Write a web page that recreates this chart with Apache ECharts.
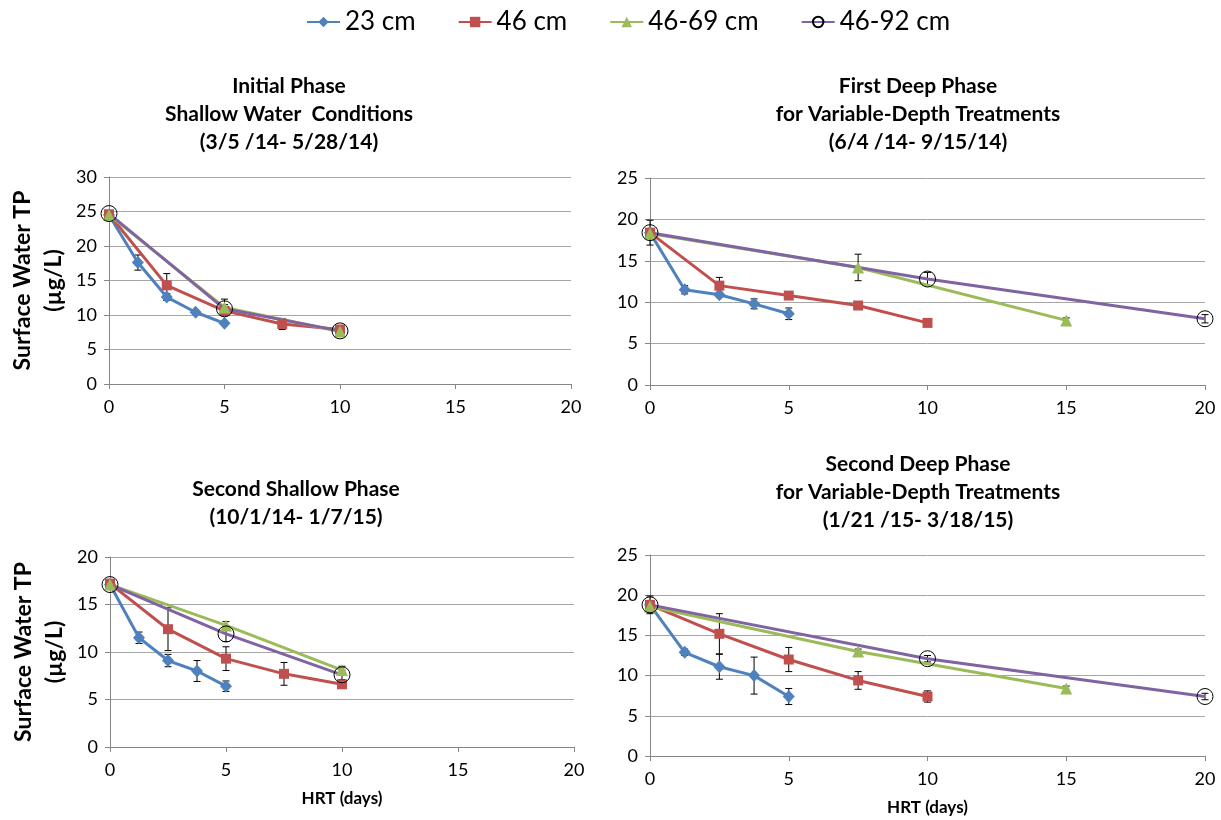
<!DOCTYPE html>
<html>
<head>
<meta charset="utf-8">
<script src="https://cdn.jsdelivr.net/npm/echarts@6.0.0/dist/echarts.min.js"></script>
<style>
  html, body { margin: 0; padding: 0; background: #fff; }
  #chart { width: 1221px; height: 820px; }
</style>
</head>
<body>
<div id="chart"></div>
<script>
// x positions (HRT, days)
const x23 = [0, 1.25, 2.5, 3.75, 5];
const x46 = [0, 2.5, 5, 7.5, 10];
const xShallow = [0, 5, 10];
const x69Deep = [0, 7.5, 15];
const x92Deep = [0, 10, 20];

const seriesNames = ['23 cm', '46 cm', '46-69 cm', '46-92 cm'];

// Initial Phase
const p1_23 = [24.5, 17.6, 12.6, 10.4, 8.8];
const p1_23err = [0.3, 1.1, 0.5, 0.3, 0.2];
const p1_46 = [24.6, 14.3, 10.6, 8.7, 7.9];
const p1_46err = [0.3, 1.7, 0.3, 0.8, 0.3];
const p1_69 = [24.5, 11.1, 7.6];
const p1_69err = [0.3, 1.2, 0.3];
const p1_92 = [24.7, 10.9, 7.7];
const p1_92err = [0.3, 0.6, 0.3];

// First Deep Phase
const p2_23 = [18.4, 11.5, 10.9, 9.8, 8.6];
const p2_23err = [1.5, 0.5, 0.3, 0.6, 0.7];
const p2_46 = [18.4, 12.0, 10.8, 9.6, 7.5];
const p2_46err = [0.5, 1.0, 0.3, 0.3, 0.3];
const p2_69 = [18.3, 14.2, 7.8];
const p2_69err = [0.5, 1.6, 0.3];
const p2_92 = [18.4, 12.8, 8.0];
const p2_92err = [0.5, 0.8, 0.5];

// Second Shallow Phase
const p3_23 = [17.1, 11.5, 9.1, 8.0, 6.4];
const p3_23err = [0.3, 0.6, 0.65, 1.1, 0.55];
const p3_46 = [17.2, 12.4, 9.3, 7.7, 6.6];
const p3_46err = [0.3, 2.25, 1.25, 1.2, 0.3];
const p3_69 = [17.1, 12.8, 8.1];
const p3_69err = [0.3, 0.4, 0.4];
const p3_92 = [17.1, 11.9, 7.6];
const p3_92err = [0.3, 0.8, 0.5];

// Second Deep Phase
const p4_23 = [18.8, 12.9, 11.1, 10.0, 7.4];
const p4_23err = [1.1, 0.4, 1.55, 2.3, 1.0];
const p4_46 = [18.8, 15.2, 12.0, 9.4, 7.4];
const p4_46err = [0.5, 2.5, 1.5, 1.1, 0.7];
const p4_69 = [18.6, 13.0, 8.4];
const p4_69err = [0.3, 0.3, 0.3];
const p4_92 = [18.8, 12.1, 7.4];
const p4_92err = [0.5, 0.4, 0.4];

const yMax = [30, 25, 20, 25];

const FONT = 'Lato';
const colors = ['#4F81BD', '#C0504D', '#9BBB59', '#8064A2'];

const panels = [
  { ys: [p1_23, p1_46, p1_69, p1_92], errs: [p1_23err, p1_46err, p1_69err, p1_92err], xs: [x23, x46, xShallow, xShallow] },
  { ys: [p2_23, p2_46, p2_69, p2_92], errs: [p2_23err, p2_46err, p2_69err, p2_92err], xs: [x23, x46, x69Deep, x92Deep] },
  { ys: [p3_23, p3_46, p3_69, p3_92], errs: [p3_23err, p3_46err, p3_69err, p3_92err], xs: [x23, x46, xShallow, xShallow] },
  { ys: [p4_23, p4_46, p4_69, p4_92], errs: [p4_23err, p4_46err, p4_69err, p4_92err], xs: [x23, x46, x69Deep, x92Deep] },
];

const grids = [
  { left: 109, top: 177, width: 462, height: 207 },
  { left: 650, top: 178, width: 555, height: 207 },
  { left: 110, top: 557, width: 464, height: 190 },
  { left: 650, top: 555, width: 555, height: 201 },
];

const titles = [
  { text: 'Initial Phase\nShallow Water  Conditions\n(3/5 /14- 5/28/14)', left: 289, top: 72 },
  { text: 'First Deep Phase\nfor Variable-Depth Treatments\n(6/4 /14- 9/15/14)', left: 918, top: 72 },
  { text: 'Second Shallow Phase\n(10/1/14- 1/7/15)', left: 296, top: 475 },
  { text: 'Second Deep Phase\nfor Variable-Depth Treatments\n(1/21 /15- 3/18/15)', left: 918, top: 450 },
];

const markers = [
  { symbol: 'diamond', symbolSize: [12, 13] },
  { symbol: 'rect', symbolSize: 10 },
  { symbol: 'triangle', symbolSize: 12 },
  { symbol: 'circle', symbolSize: 16 },
];

function errRender(params, api) {
  const x = api.value(0);
  const top = api.coord([x, api.value(2)]);
  const bot = api.coord([x, api.value(1)]);
  const w = 3.5;
  const st = { stroke: '#000', lineWidth: 1 };
  return {
    type: 'group',
    children: [
      { type: 'line', shape: { x1: top[0], y1: top[1], x2: bot[0], y2: bot[1] }, style: st },
      { type: 'line', shape: { x1: top[0] - w, y1: top[1], x2: top[0] + w, y2: top[1] }, style: st },
      { type: 'line', shape: { x1: bot[0] - w, y1: bot[1], x2: bot[0] + w, y2: bot[1] }, style: st },
    ],
  };
}

const xAxes = [];
const yAxes = [];
const series = [];

panels.forEach((p, i) => {
  const bottom = i >= 2;
  const left = i % 2 === 0;
  xAxes.push({
    type: 'value', gridIndex: i, min: 0, max: 20, interval: 5,
    name: bottom ? 'HRT (days)' : '',
    nameLocation: 'middle', nameGap: 43,
    nameTextStyle: { fontFamily: FONT, fontWeight: 'bold', fontSize: 17, color: '#000' },
    axisLine: { show: true, onZero: false, lineStyle: { color: '#868686', width: 1 } },
    axisTick: { show: true, inside: false, length: 5, lineStyle: { color: '#868686' } },
    axisLabel: { fontFamily: FONT, fontSize: 18, color: '#000', margin: 14 },
    splitLine: { show: false },
  });
  yAxes.push({
    type: 'value', gridIndex: i, min: 0, max: yMax[i], interval: 5,
    name: left ? 'Surface Water TP\n(µg/L)' : '',
    nameLocation: 'middle', nameRotate: 90, nameGap: 40,
    nameTextStyle: { fontFamily: FONT, fontWeight: 'bold', fontSize: 23, color: '#000', lineHeight: 31 },
    axisLine: { show: true, lineStyle: { color: '#868686', width: 1 } },
    axisTick: { show: true, inside: false, length: 5, lineStyle: { color: '#868686' } },
    axisLabel: { fontFamily: FONT, fontSize: 18, color: '#000', margin: 12 },
    splitLine: { show: true, lineStyle: { color: '#A6A6A6', width: 1 } },
  });

  p.ys.forEach((vals, k) => {
    const xs = p.xs[k];
    const isOpen = k === 3;
    series.push({
      type: 'line', name: seriesNames[k], xAxisIndex: i, yAxisIndex: i,
      data: vals.map((v, j) => [xs[j], v]),
      symbol: markers[k].symbol, symbolSize: markers[k].symbolSize,
      showAllSymbol: true,
      lineStyle: { color: colors[k], width: 3 },
      itemStyle: isOpen
        ? { color: 'rgba(0,0,0,0)', borderColor: '#000', borderWidth: 1 }
        : { color: colors[k] },
      emphasis: { disabled: true },
      animation: false,
      z: 2,
    });
    series.push({
      type: 'custom', name: seriesNames[k] + ' err', xAxisIndex: i, yAxisIndex: i,
      renderItem: errRender,
      data: vals.map((v, j) => [xs[j], v - p.errs[k][j], v + p.errs[k][j]]),
      encode: { x: 0, y: [1, 2] },
      animation: false,
      z: 2,
    });
  });
});

const chart = echarts.init(document.getElementById('chart'));
chart.setOption({
  backgroundColor: '#fff',
  animation: false,
  title: titles.map(t => ({
    text: t.text, left: t.left, top: t.top, textAlign: 'center', padding: 0,
    textStyle: { fontFamily: FONT, fontWeight: 'bold', fontSize: 21, lineHeight: 28, color: '#000' },
  })),
  legend: {
    data: seriesNames,
    top: 4, left: 301,
    itemWidth: 33, itemHeight: 13, itemGap: 42,
    textStyle: { fontFamily: FONT, fontSize: 26, color: '#000', padding: [0, 0, 0, 0] },
  },
  grid: grids,
  xAxis: xAxes,
  yAxis: yAxes,
  series: series,
});
</script>
</body>
</html>
